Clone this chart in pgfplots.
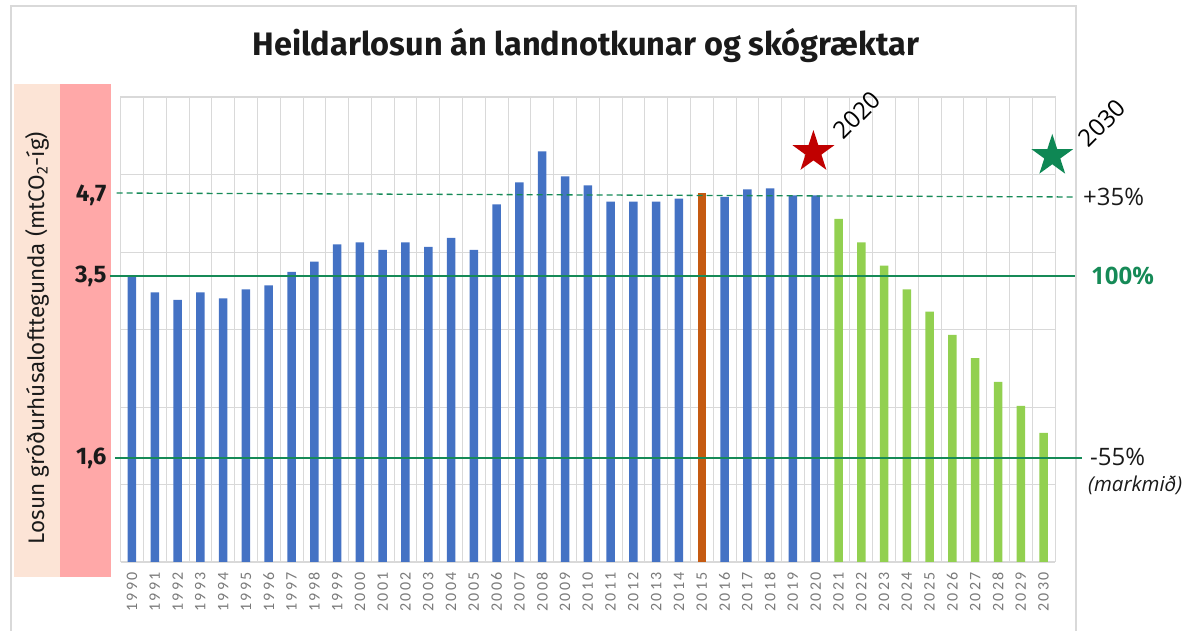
\documentclass[border=0pt]{standalone}
\usepackage{pgfplots}
\pgfplotsset{compat=1.18}
\usepackage{fontspec}
\setmainfont{Fira Sans}
\newfontfamily\tickfont[LetterSpace=14]{Carlito}
\newfontfamily\yearfont{Open Sans}
\definecolor{barblue}{HTML}{4472C4}
\definecolor{barorange}{HTML}{C55A11}
\definecolor{bargreen}{HTML}{92D050}
\definecolor{refgreen}{HTML}{168A57}
\definecolor{starred}{HTML}{C00000}
\definecolor{stargreen}{HTML}{0E8754}
\definecolor{peach}{HTML}{FCE4D6}
\definecolor{pinkbg}{HTML}{FFA8A8}
\definecolor{gridgray}{HTML}{D9D9D9}
\definecolor{tickgray}{HTML}{7A7A7A}
\definecolor{textdark}{HTML}{1A1A1A}

\pgfdeclareplotmark{fstar}{%
  \pgfpathmoveto{\pgfpointpolar{90}{\pgfplotmarksize}}%
  \pgfpathlineto{\pgfpointpolar{126}{0.382\pgfplotmarksize}}%
  \pgfpathlineto{\pgfpointpolar{162}{\pgfplotmarksize}}%
  \pgfpathlineto{\pgfpointpolar{198}{0.382\pgfplotmarksize}}%
  \pgfpathlineto{\pgfpointpolar{234}{\pgfplotmarksize}}%
  \pgfpathlineto{\pgfpointpolar{270}{0.382\pgfplotmarksize}}%
  \pgfpathlineto{\pgfpointpolar{306}{\pgfplotmarksize}}%
  \pgfpathlineto{\pgfpointpolar{342}{0.382\pgfplotmarksize}}%
  \pgfpathlineto{\pgfpointpolar{18}{\pgfplotmarksize}}%
  \pgfpathlineto{\pgfpointpolar{54}{0.382\pgfplotmarksize}}%
  \pgfpathclose
  \pgfusepathqfill
}

% historical emissions (blue), base year 2015 (orange), path to 2030 (green)
\pgfplotstableread{
year val
1990 3.694
1991 3.480
1992 3.381
1993 3.480
1994 3.403
1995 3.519
1996 3.570
1997 3.742
1998 3.875
1999 4.099
2000 4.125
2001 4.026
2002 4.125
2003 4.065
2004 4.181
2005 4.026
2006 4.615
2007 4.899
2008 5.299
2009 4.977
2010 4.861
2011 4.649
2012 4.649
2013 4.649
2014 4.688
2016 4.710
2017 4.809
2018 4.822
2019 4.732
2020 4.732
}\histdata
\pgfplotstableread{
year val
2015 4.765
}\basedata
\pgfplotstableread{
year val
2021 4.426
2022 4.125
2023 3.823
2024 3.519
2025 3.230
2026 2.929
2027 2.632
2028 2.323
2029 2.013
2030 1.665
}\pathdata

\begin{document}
\begin{tikzpicture}
\useasboundingbox (0,0) rectangle (1189pt,631pt);
% outer frame
\draw[gridgray, line width=1.5pt] (11pt,-2pt) -- (11pt,625pt) -- (1076pt,625pt) -- (1076pt,-2pt);
% left coloured bands
\fill[peach] (14pt,54pt) rectangle (60pt,547pt);
\fill[pinkbg] (60pt,54pt) rectangle (111pt,547pt);

\begin{axis}[
  at={(120.6pt,69pt)}, anchor=south west,
  scale only axis, width=934.4pt, height=465pt,
  xmin=1989.5, xmax=2030.5, ymin=0, ymax=6,
  ybar, bar width=8.5pt,
  clip=false,
  axis line style={draw=gridgray, line width=1pt},
  major tick length=0pt,
  xtick={1990,...,2030},
  xticklabel style={font=\tickfont\fontsize{16}{16}\selectfont, text=tickgray, inner sep=0pt,
    yshift=-10pt, rotate=90, anchor=east,
    /pgf/number format/1000 sep={}, /pgf/number format/assume math mode=true},
  ytick={1.342,3.69,4.735},
  yticklabels={{1,6},{3,5},{4,7}},
  yticklabel style={font=\bfseries\fontsize{24}{24}\selectfont, text=textdark, inner sep=0pt, xshift=-14pt, anchor=east},
  extra y ticks={0,1,2,3,4,5,6}, extra y tick labels={},
  extra y tick style={grid=major, major tick length=0pt},
  extra x ticks={1989.5,1990.5,...,2030.5}, extra x tick labels={},
  extra x tick style={grid=major, major tick length=0pt},
  major grid style={draw=gridgray, line width=0.8pt},
]
\addplot[fill=barblue, draw=none, bar shift=0pt] table[x=year, y=val] {\histdata};
\addplot[fill=barorange, draw=none, bar shift=0pt] table[x=year, y=val] {\basedata};
\addplot[fill=bargreen, draw=none, bar shift=0pt] table[x=year, y=val] {\pathdata};
% reference lines
\addplot[sharp plot, refgreen, line width=1.3pt, dash pattern=on 6pt off 4pt] coordinates {(1989.33,4.761) (2031.37,4.710)};
\addplot[sharp plot, refgreen, line width=1.3pt] coordinates {(1989.03,3.69) (2031.37,3.69)};
\addplot[sharp plot, refgreen, line width=1.3pt] coordinates {(1989.25,1.342) (2031.68,1.342)};
% milestone stars
\addplot[only marks, mark=fstar, mark size=22pt, mark options={fill=starred, draw=none}] coordinates {(2019.9,5.29)};
\addplot[only marks, mark=fstar, mark size=22pt, mark options={fill=stargreen, draw=none}] coordinates {(2030.38,5.24)};
\end{axis}

% title
\node[font=\bfseries\fontsize{32.5}{32.5}\selectfont, text=textdark] at (586pt,585pt) {Heildarlosun án landnotkunar og skógræktar};
% y label
\node[rotate=90, font=\fontsize{22.5}{22.5}\selectfont, text=textdark] at (37pt,293pt) {Losun gróðurhúsalofttegunda (mtCO\textsubscript{2}-íg)};
% year annotations
\node[rotate=45, font=\yearfont\fontsize{24}{24}\selectfont] at (857pt,516pt) {2020};
\node[rotate=45, font=\yearfont\fontsize{24}{24}\selectfont] at (1102pt,508pt) {2030};
% right-hand labels
\node[anchor=west, font=\yearfont\fontsize{24}{24}\selectfont, text=textdark, inner sep=0pt] at (1083pt,434pt) {+35\%};
\node[anchor=west, font=\yearfont\bfseries\fontsize{24}{24}\selectfont, text=refgreen, inner sep=0pt] at (1091pt,355pt) {100\%};
\node[anchor=west, font=\yearfont\fontsize{24}{24}\selectfont, text=textdark, inner sep=0pt] at (1090pt,174pt) {-55\%};
\node[anchor=west, font=\yearfont\itshape\fontsize{20.5}{20.5}\selectfont, text=textdark, inner sep=0pt] at (1088pt,146pt) {(markmið)};
\end{tikzpicture}
\end{document}
